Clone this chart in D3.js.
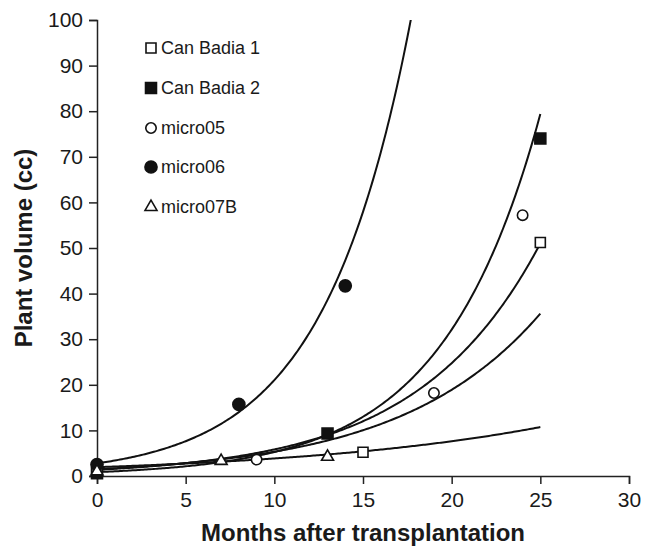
<!DOCTYPE html>
<html>
<head>
<meta charset="utf-8">
<script src="https://cdn.jsdelivr.net/npm/d3@7"></script>
<style>
  body { margin: 0; background: #fff; }
  svg { display: block; font-family: Arial, "Liberation Sans", sans-serif; }
</style>
</head>
<body>
<div id="chart-area"></div>
<script>
// series
const seriesNames = ["Can Badia 1", "Can Badia 2", "micro05", "micro06", "micro07B"]
const months = [[0, 15, 25], [0, 13, 25], [0, 9, 19, 24], [0, 8, 14], [0, 7, 13]]
const volumes = [[1.0, 5.2, 51.2], [0.6, 9.3, 74.0], [1.4, 3.6, 18.2, 57.2], [2.5, 15.7, 41.7], [1.0, 3.3, 4.2]]
// exponential trend lines y = a * exp(b * x), drawn from 0 to 25 months
const fitA = [1.37, 0.86, 1.5, 2.77, 1.94]
const fitB = [0.1447, 0.181, 0.1267, 0.2027, 0.0684]
const fitEnd = 25
const xTicks = [0, 5, 10, 15, 20, 25, 30]
const yTicks = [0, 10, 20, 30, 40, 50, 60, 70, 80, 90, 100]

const MARGIN = { LEFT: 97, RIGHT: 16, TOP: 20, BOTTOM: 71 }
const W = 645, H = 547
const WIDTH = W - MARGIN.LEFT - MARGIN.RIGHT
const HEIGHT = H - MARGIN.TOP - MARGIN.BOTTOM

const svg = d3.select("#chart-area").append("svg")
  .attr("width", W)
  .attr("height", H)

const g = svg.append("g")
  .attr("transform", `translate(${MARGIN.LEFT}, ${MARGIN.TOP})`)

const x = d3.scaleLinear().domain([0, 30]).range([0, WIDTH])
const y = d3.scaleLinear().domain([0, 100]).range([HEIGHT, 0])

// axes
const xAxisCall = d3.axisBottom(x).tickValues(xTicks).tickSize(8).tickPadding(8)
const xAxis = g.append("g")
  .attr("transform", `translate(0, ${HEIGHT})`)
  .call(xAxisCall)
xAxis.selectAll("text").attr("font-size", "21px").attr("fill", "#1a1a1a").attr("font-family", "Arial, 'Liberation Sans', sans-serif")

const yAxisCall = d3.axisLeft(y).tickValues(yTicks).tickSize(8).tickPadding(6)
const yAxis = g.append("g").call(yAxisCall)
yAxis.selectAll("text").attr("font-size", "21px").attr("fill", "#1a1a1a").attr("font-family", "Arial, 'Liberation Sans', sans-serif")

g.selectAll(".domain").attr("stroke", "#222").attr("stroke-width", 1.5)
g.selectAll(".tick line").attr("stroke", "#222").attr("stroke-width", 1.5)

// axis titles
svg.append("text")
  .attr("x", MARGIN.LEFT + WIDTH / 2)
  .attr("y", 541)
  .attr("text-anchor", "middle")
  .attr("font-size", "24px")
  .attr("font-weight", "bold")
  .attr("fill", "#1a1a1a")
  .text("Months after transplantation")

svg.append("text")
  .attr("transform", `translate(32, ${MARGIN.TOP + HEIGHT / 2}) rotate(-90)`)
  .attr("text-anchor", "middle")
  .attr("font-size", "24px")
  .attr("font-weight", "bold")
  .attr("fill", "#1a1a1a")
  .text("Plant volume (cc)")

// trend lines, clipped to the plot box
svg.append("defs").append("clipPath").attr("id", "plot-clip")
  .append("rect").attr("x", 0).attr("y", 0).attr("width", WIDTH).attr("height", HEIGHT)

const line = d3.line().x(d => x(d[0])).y(d => y(d[1]))
const steps = d3.range(0, fitEnd + 0.001, 0.1)
const curves = g.append("g").attr("clip-path", "url(#plot-clip)")
seriesNames.forEach((name, i) => {
  curves.append("path")
    .datum(steps.map(t => [t, fitA[i] * Math.exp(fitB[i] * t)]))
    .attr("d", line)
    .attr("fill", "none")
    .attr("stroke", "#111")
    .attr("stroke-width", 2)
})

// markers
const symbolType = [d3.symbolSquare, d3.symbolSquare, d3.symbolCircle, d3.symbolCircle, d3.symbolTriangle]
const symbolSize = [100, 120, 85, 115, 62]
const filled = [false, true, false, true, false]

function drawMarker(sel, i) {
  sel.append("path")
    .attr("d", d3.symbol().type(symbolType[i]).size(symbolSize[i])())
    .attr("fill", filled[i] ? "#111" : "#fff")
    .attr("stroke", "#111")
    .attr("stroke-width", 1.6)
}

seriesNames.forEach((name, i) => {
  const pts = months[i].map((m, k) => [m, volumes[i][k]])
  const sel = g.append("g").selectAll("g")
    .data(pts)
    .enter().append("g")
    .attr("transform", d => `translate(${x(d[0])}, ${y(d[1])})`)
  drawMarker(sel, i)
})

// legend
const legendY = [48, 88, 128, 167, 207]
const legend = svg.append("g")
seriesNames.forEach((name, i) => {
  const row = legend.append("g").attr("transform", `translate(151, ${legendY[i]})`)
  drawMarker(row, i)
  row.append("text")
    .attr("x", 10)
    .attr("y", 0)
    .attr("dy", "0.35em")
    .attr("font-size", "18px")
    .attr("fill", "#1a1a1a")
    .text(name)
})
</script>
</body>
</html>
